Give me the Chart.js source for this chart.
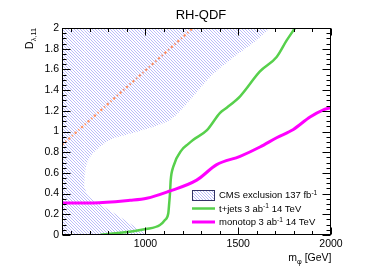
<!DOCTYPE html>
<html><head><meta charset="utf-8">
<script src="https://cdn.jsdelivr.net/npm/chart.js@4/dist/chart.umd.min.js"></script>
<style>html,body{margin:0;padding:0;background:#fff}#wrap{width:390px;height:280px}</style>
</head><body><div id="wrap"><canvas id="c" width="390" height="280"></canvas></div>
<script>
// ---- data ----
const chartTitle = 'RH-QDF';
const xTickLabels = [1000, 1500, 2000];
const yTickLabels = [0, 0.2, 0.4, 0.6, 0.8, 1, 1.2, 1.4, 1.6, 1.8, 2];

const tjetsMass = [755, 1003, 1078, 1105, 1123, 1128, 1132, 1136, 1150, 1195, 1231, 1256, 1330, 1402, 1438, 1510, 1617, 1707, 1761, 1806];
const tjetsD    = [0, 0.058, 0.097, 0.145, 0.21, 0.31, 0.40, 0.53, 0.66, 0.82, 0.88, 0.918, 1.01, 1.18, 1.23, 1.34, 1.58, 1.72, 1.88, 2.0];

const monotopMass = [550, 717, 917, 1007, 1123, 1276, 1384, 1510, 1617, 1707, 1797, 1887, 1959, 2000];
const monotopD    = [0.31, 0.31, 0.335, 0.355, 0.42, 0.53, 0.68, 0.76, 0.85, 0.94, 1.02, 1.14, 1.21, 1.23];

// CMS exclusion region: area above the upper edge and below the lower edge
const excUpperMass = [670, 676, 685, 717, 809, 970, 1132, 1240, 1348, 1456, 1600, 1671];
const excUpperD    = [0.50, 0.62, 0.696, 0.79, 0.918, 1.005, 1.111, 1.304, 1.527, 1.691, 1.884, 2.0];
const excLowerMass = [550, 670, 670, 690, 717, 863, 970, 1014];
const excLowerD    = [2, 2, 0.46, 0.38, 0.34, 0.174, 0.048, 0];

// dotted orange line
const dotMass = [550, 1256];
const dotD    = [0.87, 2.0];

const legendLabels = [
  [{t:'CMS exclusion 137 fb'},{t:'-1',sup:true}],
  [{t:'t+jets 3 ab'},{t:'-1',sup:true},{t:' 14 TeV'}],
  [{t:'monotop 3 ab'},{t:'-1',sup:true},{t:' 14 TeV'}]
];

// ---- styling ----
const FONT = '"Liberation Sans", Arial, Helvetica, sans-serif';
const GREEN = '#57d04c';
const MAGENTA = '#ff00ff';
const ORANGE = '#ff8d5c';

function makeHatch(){
  const s = 3;
  const c = document.createElement('canvas'); c.width = s; c.height = s;
  const g = c.getContext('2d');
  g.strokeStyle = 'rgba(120,120,245,0.6)'; g.lineWidth = 0.85;
  g.beginPath();
  g.moveTo(-1,-1); g.lineTo(s+1,s+1);
  g.moveTo(s-1,-1); g.lineTo(s+1,1);
  g.moveTo(-1,s-1); g.lineTo(1,s+1);
  g.stroke();
  return g.createPattern(c, 'repeat');
}
const hatch = makeHatch();
const pts = (xs, ys) => xs.map((x,i)=>({x, y: ys[i]}));

function drawRich(ctx, segs, x, y, size, align){
  const subSize = size*0.7;
  const widths = segs.map(s=>{ ctx.font = ((s.sup||s.sub)?subSize:size)+'px '+FONT; return ctx.measureText(s.t).width; });
  const total = widths.reduce((a,b)=>a+b,0);
  let cx = align==='right' ? x-total : (align==='center' ? x-total/2 : x);
  segs.forEach((s,i)=>{
    ctx.font = ((s.sup||s.sub)?subSize:size)+'px '+FONT;
    const dy = s.sup ? -size*0.4 : (s.sub ? size*0.3 : 0);
    ctx.fillText(s.t, cx, y+dy);
    cx += widths[i];
  });
  return total;
}

const framePlugin = {
  id:'frame',
  afterDatasetsDraw(chart){
    const {ctx, chartArea:a, scales:{x, y}} = chart;
    ctx.save();
    ctx.strokeStyle = '#000'; ctx.lineWidth = 1;
    const L = Math.round(a.left)+0.5, R = Math.round(a.right)-0.5, T = Math.round(a.top)+0.5, B = Math.round(a.bottom)-0.5;
    ctx.beginPath();
    for (let v = 600; v <= 2000; v += 100){
      const px = Math.round(x.getPixelForValue(v))+0.5;
      const len = (v % 500 === 0) ? 7 : 3.5;
      ctx.moveTo(px, B); ctx.lineTo(px, B-len);
      ctx.moveTo(px, T); ctx.lineTo(px, T+len);
    }
    for (let i = 0; i <= 40; i++){
      const v = i*0.05;
      const py = Math.round(y.getPixelForValue(v))+0.5;
      const len = (i % 4 === 0) ? 8 : 4;
      ctx.moveTo(L, py); ctx.lineTo(L+len, py);
      ctx.moveTo(R, py); ctx.lineTo(R-len, py);
    }
    ctx.stroke();
    ctx.strokeRect(L, T, R-L, B-T);
    ctx.restore();
  },
  afterDraw(chart){
    const {ctx} = chart;
    ctx.save();
    ctx.fillStyle = '#000';
    ctx.font = '13px '+FONT; ctx.textAlign = 'center'; ctx.textBaseline = 'middle';
    ctx.fillText(chartTitle, 201, 15);
    ctx.textAlign = 'left'; ctx.textBaseline = 'alphabetic';
    drawRich(ctx, [{t:'m'},{t:'φ',sub:true},{t:' [GeV]'}], 331.5, 261, 10.5, 'right');
    ctx.save();
    ctx.translate(33, 28); ctx.rotate(-Math.PI/2);
    drawRich(ctx, [{t:'D'},{t:'λ,11',sub:true}], 0, 0, 10.5, 'right');
    ctx.restore();
    const rows = [195, 208.5, 222];
    ctx.fillStyle = hatch;
    ctx.fillRect(192, 190, 23, 10);
    ctx.strokeStyle = '#333366'; ctx.lineWidth = 1;
    ctx.strokeRect(192.5, 190.5, 22, 10);
    ctx.lineCap = 'butt';
    ctx.strokeStyle = GREEN; ctx.lineWidth = 2.5;
    ctx.beginPath(); ctx.moveTo(192, rows[1]); ctx.lineTo(215, rows[1]); ctx.stroke();
    ctx.strokeStyle = MAGENTA; ctx.lineWidth = 3;
    ctx.beginPath(); ctx.moveTo(192, rows[2]); ctx.lineTo(215, rows[2]); ctx.stroke();
    ctx.fillStyle = '#000';
    legendLabels.forEach((segs,i)=>{
      drawRich(ctx, segs, 219, rows[i]+3.4, 9.5, 'left');
    });
    ctx.restore();
  }
};

new Chart(document.getElementById('c'), {
  type: 'line',
  data: {
    datasets: [
      { label:'monotop', data: pts(monotopMass, monotopD), borderColor: MAGENTA, borderWidth: 3, fill:false, cubicInterpolationMode:'monotone' },
      { label:'t+jets', data: pts(tjetsMass, tjetsD), borderColor: GREEN, borderWidth: 2.5, fill:false, cubicInterpolationMode:'monotone' },
      { label:'dotted', data: pts(dotMass, dotD), borderColor: ORANGE, borderWidth: 2.2, borderDash:[2.2,2.6,1.2,2.6], fill:false },
      { label:'CMS exclusion upper', data: pts(excUpperMass, excUpperD), borderWidth: 0, borderColor:'rgba(0,0,0,0)', backgroundColor: hatch, fill:'end', tension:0.3 },
      { label:'CMS exclusion lower', data: pts(excLowerMass, excLowerD), borderWidth: 0, borderColor:'rgba(0,0,0,0)', backgroundColor: hatch, fill:'start', tension:0 }
    ]
  },
  options: {
    responsive:false, animation:false, devicePixelRatio:1,
    layout:{padding:{left:0, right:59, top:28, bottom:0}},
    plugins:{legend:{display:false}, tooltip:{enabled:false}, title:{display:false}},
    elements:{point:{radius:0, hoverRadius:0}},
    scales:{
      x:{ type:'linear', min:550, max:2000,
          afterBuildTicks: s => { s.ticks = xTickLabels.map(v=>({value:v})); },
          ticks:{ font:{family:FONT, size:10.5}, color:'#000', padding:3, maxRotation:0, autoSkip:false, callback: v => String(v) },
          grid:{display:false, drawTicks:false}, border:{display:false},
          afterFit: s => { s.height = 45; } },
      y:{ type:'linear', min:0, max:2,
          afterBuildTicks: s => { s.ticks = yTickLabels.map(v=>({value:v})); },
          ticks:{ font:{family:FONT, size:10.5}, color:'#000', padding:3, autoSkip:false, callback: v => String(v) },
          grid:{display:false, drawTicks:false}, border:{display:false},
          afterFit: s => { s.width = 62; } }
    }
  },
  plugins:[framePlugin]
});
</script>
</body></html>
